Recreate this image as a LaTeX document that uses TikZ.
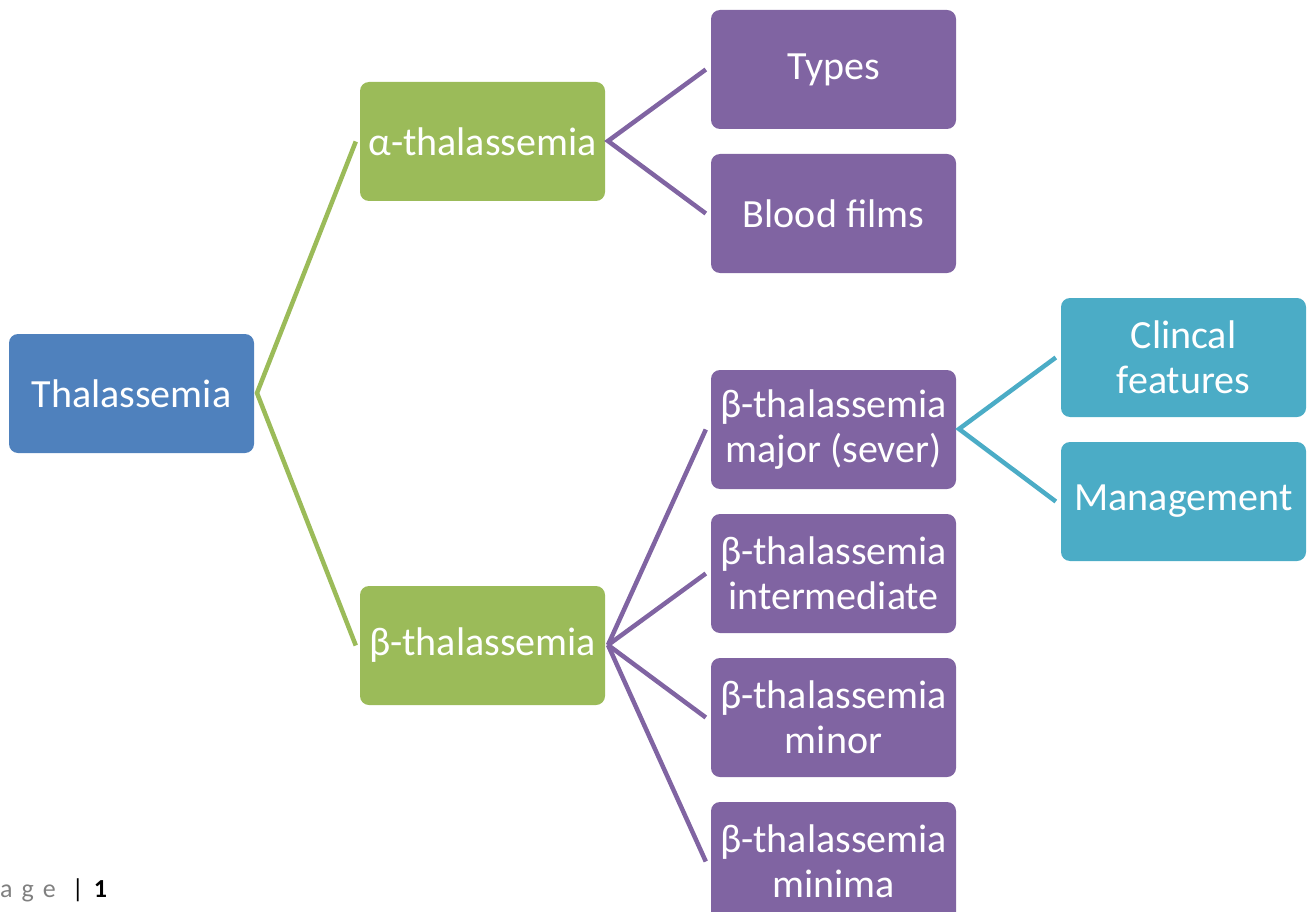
\documentclass[tikz,border=0pt]{standalone}
\usepackage{fontspec}
\setmainfont{Carlito}
\usetikzlibrary{calc}
\definecolor{cblue}{HTML}{4F81BD}
\definecolor{cgreen}{HTML}{9BBB59}
\definecolor{cpurple}{HTML}{8064A2}
\definecolor{cteal}{HTML}{4BACC6}
\definecolor{cgray}{HTML}{808080}
\begin{document}
\begin{tikzpicture}[x=1pt,y=-1pt,
  box/.style={rounded corners=9pt, minimum width=245pt, minimum height=119pt,
    inner sep=0pt, align=center, text=white, font=\fontsize{40}{45}\selectfont},
  bluebox/.style={box, fill=cblue},
  greenbox/.style={box, fill=cgreen},
  purplebox/.style={box, fill=cpurple},
  tealbox/.style={box, fill=cteal},
  link/.style={line width=4.5pt},
]
\useasboundingbox (0,0) rectangle (1314,912);
\begin{scope}
\clip (0,0) rectangle (1314,912);
\node[bluebox] (root) at (131.5,393.5) {Thalassemia};
\node[greenbox] (alpha) at (482.5,141.5) {α-thalassemia};
\node[greenbox] (beta) at (482.5,645.5) {β-thalassemia};
\node[purplebox] (types) at (833.5,69.5) {Types};
\node[purplebox] (films) at (833.5,213.5) {Blood films};
\node[purplebox] (major) at (833.5,429.5) {β-thalassemia\\major (sever)};
\node[purplebox] (inter) at (833.5,573.5) {β-thalassemia\\intermediate};
\node[purplebox] (minor) at (833.5,717.5) {β-thalassemia\\minor};
\node[purplebox] (minima) at (833.5,861.5) {β-thalassemia\\minima};
\node[tealbox] (clin) at (1183.5,357.5) {Clincal\\features};
\node[tealbox] (mgmt) at (1183.5,501.5) {Management};
\end{scope}
\coordinate (r0) at (257,393);
\coordinate (a0) at (608,141);
\coordinate (b0) at (608,645);
\coordinate (m0) at (959,429);
\draw[link, cgreen] ($(alpha.west)+(-4,0)$) -- (r0) -- ($(beta.west)+(-4,0)$);
\draw[link, cpurple] ($(types.west)+(-5,0)$) -- (a0) -- ($(films.west)+(-5,0)$);
\draw[link, cpurple] ($(major.west)+(-5,0)$) -- (b0);
\draw[link, cpurple] ($(inter.west)+(-5,0)$) -- (b0);
\draw[link, cpurple] ($(minor.west)+(-5,0)$) -- (b0);
\draw[link, cpurple] ($(minima.west)+(-5,0)$) -- (b0);
\draw[link, cteal] ($(clin.west)+(-5,0)$) -- (m0) -- ($(mgmt.west)+(-5,0)$);
\node[anchor=base west, inner sep=0pt, font=\fontsize{26}{30}\selectfont] (page) at (0,897)
  {\textcolor{cgray}{a\hspace{9pt}g\hspace{9pt}e}\hspace{16pt}|\hspace{10pt}\textbf{1}};
\end{tikzpicture}
\end{document}
